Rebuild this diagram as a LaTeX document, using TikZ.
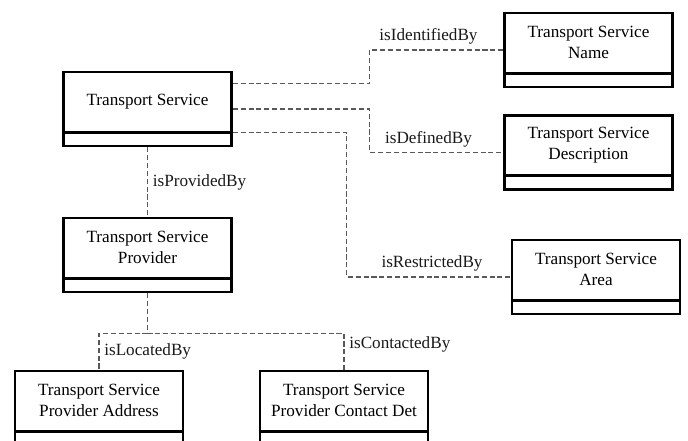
\documentclass[tikz,border=0pt]{standalone}
\usepackage{fontspec}
\setmainfont{Liberation Serif}

\tikzset{
  clsbox/.style={draw, line width=1.8pt, minimum width=4.2cm, minimum height=1.85cm, inner sep=0pt},
  clstext/.style={align=center, font=\fontsize{12.2pt}{15pt}\selectfont},
  rel/.style={draw=black!65, line width=0.9pt, dash pattern=on 3.6pt off 2pt},
  rellabel/.style={font=\fontsize{12.2pt}{15pt}\selectfont, text=black!90}
}

% class box: name, position, text
\newcommand{\umlclass}[3]{%
  \node[clsbox] (#1) at (#2) {};
  \node[clstext] (#1-t) at ([yshift=0.1875cm]#1.center) {#3};
  \draw[line width=1.8pt] ([yshift=0.375cm]#1.south west) -- ([yshift=0.375cm]#1.south east);
}

\begin{document}
\begin{tikzpicture}
  \useasboundingbox (0,0) rectangle (17.2,11.025);
  \clip (0,0) rectangle (17.2,11.025);

  \umlclass{ts}{3.6875,8.3}{Transport Service}
  \umlclass{name}{14.7125,9.775}{Transport Service\\Name}
  \umlclass{desc}{14.7125,7.2125}{Transport Service\\Description}
  \umlclass{area}{14.9,4.1}{Transport Service\\Area}
  \umlclass{tsp}{3.6875,4.65}{Transport Service\\Provider}
  \umlclass{addr}{2.475,0.825}{Transport Service\\Provider Address}
  \umlclass{cont}{8.6,0.825}{Transport Service\\Provider Contact Det}

  % relations of the service
  \draw[rel] ([yshift=-0.325cm]ts.north east) -- ++(3.425,0)
    |- node[rellabel, pos=0.72, above] {isIdentifiedBy} (name.west);
  \draw[rel] (ts.east) -- ++(3.425,0)
    |- node[rellabel, pos=0.72, above] {isDefinedBy} (desc.west);
  \draw[rel] ([yshift=0.375cm]ts.south east) -- ++(2.85,0)
    |- node[rellabel, pos=0.76, above] {isRestrictedBy} (area.west);
  \draw[rel] (ts.south) -- node[rellabel, right] {isProvidedBy} (tsp.north);

  % relations of the provider
  \draw[rel] (tsp.south) -- ++(0,-1) coordinate (fork);
  \draw[rel] (fork) -| node[rellabel, pos=0.75, right] {isLocatedBy} (addr.north);
  \draw[rel] (fork) -| node[rellabel, pos=0.65, right] {isContactedBy} (cont.north);
\end{tikzpicture}
\end{document}
